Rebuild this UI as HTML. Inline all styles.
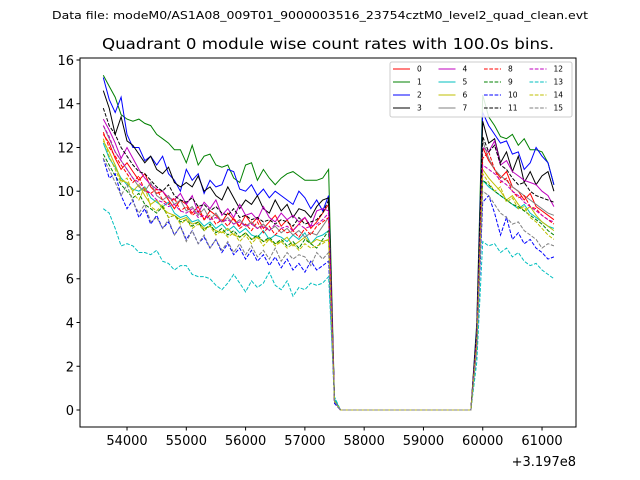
<!DOCTYPE html>
<html><head><meta charset="utf-8"><style>
body{margin:0;background:#fff;}
svg{display:block;font-family:"DejaVu Sans","Liberation Sans",sans-serif;}
</style></head><body>
<svg id="chart" width="640" height="480">
<rect x="0" y="0" width="640" height="480" fill="#fff"/>
<text x="320" y="19" font-size="10.5" text-anchor="middle" textLength="536" lengthAdjust="spacingAndGlyphs">Data file: modeM0/AS1A08_009T01_9000003516_23754cztM0_level2_quad_clean.evt</text>
<text x="328" y="49" font-size="15.5" text-anchor="middle" textLength="452" lengthAdjust="spacingAndGlyphs">Quadrant 0 module wise count rates with 100.0s bins.</text>
<g id="plot"></g>
<g id="axes"></g>
<g id="legend"></g>
<text x="576" y="466" font-size="13" text-anchor="end">+3.197e8</text>
</svg>
<script>
const startTime = 53600;
const binSize = 100;
const xTicks = [54000,55000,56000,57000,58000,59000,60000,61000];
const yTicks = [0,2,4,6,8,10,12,14,16];
const colors = ['#ff0000','#008000','#0000ff','#000000','#bf00bf','#00bfbf','#bfbf00','#808080'];
const dropValues = [0.4,0.5,0.4,0.4,0.4,0.5,0.4,0.4,0.4,0.4,0.3,0.4,0.4,0.6,0.4,0.4];
const gapValues = [0,0,0,0,0,0,0,0,0,0,0,0,0,0,0,0,0,0,0,0,0,0,0];
const riseValues = [3.4,4.0,3.8,3.6,3.4,3.0,3.2,3.4,3.2,3.0,2.8,3.6,3.2,2.2,3.0,2.8];
const seg1 = [
[12.6,12.2,11.5,11.0,11.3,10.9,10.5,10.8,10.2,9.9,10.0,9.6,9.2,9.6,9.4,9.0,9.3,8.7,9.1,8.9,8.6,9.0,8.7,8.4,8.9,8.5,8.8,8.3,8.6,8.9,8.4,8.7,8.2,8.5,8.8,8.3,8.6,9.0,9.4],
[15.3,14.8,14.3,13.5,13.3,13.2,13.3,13.1,13.0,12.6,12.4,12.2,11.9,11.9,11.3,12.1,11.2,11.6,11.7,11.2,11.1,11.2,10.6,10.4,11.2,11.3,10.5,11.0,10.6,10.3,10.6,10.8,10.9,10.7,10.5,10.5,10.5,10.6,11.0],
[15.2,14.2,13.6,14.3,12.6,12.0,12.0,11.4,11.6,11.2,11.6,10.8,10.5,10.0,11.0,10.5,10.8,9.9,10.5,10.2,10.3,11.0,10.9,10.1,10.0,10.3,9.8,10.1,9.7,10.0,9.8,9.6,9.4,10.0,9.7,9.2,9.6,9.1,9.8],
[14.6,13.8,12.6,13.4,12.3,12.1,11.7,11.3,11.6,11.0,10.8,11.1,10.4,10.2,10.4,10.2,10.7,10.0,10.2,9.8,9.6,10.2,9.7,9.2,9.6,9.4,9.8,9.2,9.0,9.6,9.1,9.4,8.8,9.2,9.1,8.8,9.3,9.6,9.7],
[13.3,12.8,12.2,11.5,12.0,11.5,11.0,10.6,10.3,10.1,10.0,9.7,9.6,9.9,9.4,9.8,9.0,9.5,9.2,9.6,8.9,9.2,8.8,9.4,8.9,9.0,8.7,9.3,8.8,8.6,9.0,8.7,8.9,8.6,8.8,8.4,9.1,9.2,9.1],
[12.2,11.5,11.1,10.6,10.3,10.1,10.0,10.2,9.7,9.5,9.3,9.5,9.0,8.8,8.9,8.6,8.7,8.4,8.6,8.3,8.5,8.2,8.4,8.1,8.3,8.0,7.9,8.2,7.8,8.0,7.9,7.7,8.0,7.8,8.1,7.6,7.9,8.0,8.2],
[12.3,11.8,11.2,10.5,10.4,10.0,10.3,9.8,9.4,9.6,9.2,9.0,8.9,8.7,8.8,8.5,8.6,8.3,8.4,8.2,8.1,8.3,8.0,7.9,8.1,7.8,7.9,7.7,7.8,7.6,7.7,7.9,7.5,7.7,7.9,7.6,7.8,7.7,7.8],
[13.0,12.4,11.8,11.4,11.0,10.6,10.2,10.0,10.4,9.8,9.6,9.8,9.4,9.6,9.1,9.3,8.9,9.2,8.7,9.0,8.6,8.8,8.5,8.7,8.4,8.6,8.3,8.5,8.2,8.4,8.1,8.3,8.0,8.2,7.9,8.1,8.0,8.4,8.8],
[12.7,12.0,11.6,11.2,10.8,10.4,10.7,10.0,9.9,10.1,9.6,9.4,9.7,9.1,9.3,8.9,9.1,8.7,8.9,8.5,8.7,8.4,8.8,8.3,8.5,8.2,8.6,8.1,8.4,8.0,8.3,8.1,8.2,7.9,8.3,8.0,8.4,8.6,8.8],
[11.7,11.2,10.7,10.3,10.0,9.7,9.9,9.4,9.2,9.0,9.3,8.8,8.9,8.6,8.7,8.4,8.6,8.2,8.5,8.1,8.3,8.0,8.2,7.9,8.1,7.8,8.0,7.7,7.9,7.6,7.8,7.5,7.7,7.4,7.8,7.6,7.4,7.8,8.2],
[11.5,10.6,10.8,9.8,9.2,9.6,8.8,9.2,8.5,8.9,8.3,8.6,8.0,8.4,7.8,8.2,7.6,7.9,7.4,7.8,7.2,7.6,7.1,7.4,6.9,7.3,6.8,7.1,6.6,7.0,6.5,6.9,6.4,6.7,6.3,6.8,6.4,6.6,6.8],
[13.8,13.0,12.6,12.0,11.6,11.2,10.9,10.8,10.5,10.2,10.0,10.3,9.8,9.6,9.5,9.7,9.3,9.4,9.1,9.3,9.0,8.9,9.2,8.8,8.9,8.7,8.8,8.6,8.7,8.5,8.7,8.6,8.4,8.8,8.5,8.6,8.7,9.0,9.6],
[13.0,12.5,11.8,11.4,11.0,10.6,10.4,10.1,9.9,9.6,9.5,9.3,9.4,9.1,9.0,9.2,8.8,8.9,8.7,8.8,8.6,8.7,8.5,8.6,8.4,8.5,8.3,8.4,8.2,8.5,8.3,8.4,8.2,8.5,8.3,8.4,8.5,8.7,9.0],
[9.2,9.0,8.3,7.5,7.6,7.5,7.2,7.2,7.1,7.3,6.8,6.7,6.4,6.6,6.6,6.2,6.1,6.1,6.0,5.7,5.5,5.8,6.2,5.8,5.4,5.9,5.6,5.8,6.3,5.7,5.5,5.9,5.2,5.6,5.5,5.8,5.7,5.8,6.1],
[12.4,11.6,11.0,10.4,10.6,9.9,9.6,10.2,9.3,9.1,9.4,8.8,8.9,8.5,8.7,8.3,8.5,8.2,8.4,8.0,8.2,7.9,8.1,7.7,8.0,7.6,7.9,7.5,7.8,7.5,7.7,7.4,7.6,7.3,7.6,7.4,7.5,7.6,7.8],
[11.5,11.0,10.4,9.8,10.3,9.5,9.0,9.4,8.6,8.8,8.3,8.7,8.0,8.4,7.7,8.2,7.6,8.0,7.4,7.8,7.3,7.7,7.2,7.6,7.1,7.5,7.0,7.3,6.9,7.4,6.8,7.2,6.9,7.1,7.0,6.6,7.2,6.9,7.2]
];
const seg2 = [
[12.0,11.4,11.0,10.6,10.9,10.2,10.0,9.6,9.9,9.3,9.1,8.9,8.7],
[14.4,13.4,13.0,12.5,12.4,12.6,12.1,12.4,11.9,11.9,11.8,11.3,10.3],
[13.6,13.0,12.6,12.2,12.3,11.7,11.8,11.0,11.3,12.0,11.6,11.3,10.3],
[13.2,12.2,12.4,11.3,11.8,10.9,11.6,10.4,10.9,10.3,10.7,10.9,10.0],
[12.0,11.8,12.3,11.2,11.4,10.9,10.7,10.5,10.4,10.3,10.0,9.8,9.3],
[10.5,10.2,10.0,9.8,9.6,9.4,9.2,9.4,9.0,8.8,8.6,8.4,8.3],
[11.0,10.6,10.3,10.0,9.6,9.8,9.4,9.1,9.3,8.9,8.6,8.4,8.2],
[12.3,11.5,11.0,10.7,10.5,10.2,10.0,9.8,9.6,9.4,9.2,9.0,8.9],
[11.5,11.8,11.0,10.4,10.6,10.0,9.7,9.8,9.3,9.2,8.9,8.7,8.5],
[10.5,10.3,10.0,9.8,9.6,9.4,9.3,9.1,8.9,8.7,8.5,8.2,8.0],
[9.5,9.8,9.0,8.0,8.8,7.8,8.1,7.6,7.8,7.4,7.2,6.9,7.0],
[12.5,11.8,12.1,11.2,11.0,10.6,10.3,10.4,10.0,9.8,9.7,9.6,9.5],
[11.2,11.0,10.8,10.5,10.3,10.0,9.8,9.5,9.3,9.1,8.9,8.7,8.6],
[7.7,7.5,7.6,7.2,7.4,7.0,7.2,6.8,6.6,6.7,6.4,6.2,6.0],
[10.8,10.4,10.0,10.2,9.5,9.7,9.2,9.3,8.8,8.6,8.3,8.0,7.8],
[10.0,9.8,9.4,9.0,8.8,8.5,8.6,8.2,8.0,7.8,7.4,7.6,7.5]
];
const NS = 'http://www.w3.org/2000/svg';
const X0 = 80, X1 = 576, Y0 = 58, Y1 = 427;
const xMin = 53207, xMax = 61573, yMin = -0.777, yMax = 16.091;
function xs(v){return X0 + (v - xMin) / (xMax - xMin) * (X1 - X0);}
function ys(v){return Y1 - (v - yMin) / (yMax - yMin) * (Y1 - Y0);}
function mk(tag, attrs, parent){const e=document.createElementNS(NS,tag);for(const k in attrs)e.setAttribute(k,attrs[k]);parent.appendChild(e);return e;}
const plot = document.getElementById('plot');
const axes = document.getElementById('axes');
const legend = document.getElementById('legend');
for (let s = 0; s < 16; s++) {
  const vals = seg1[s].concat([dropValues[s]], gapValues, [riseValues[s]], seg2[s]);
  const pts = vals.map((v,i)=>xs(startTime + i*binSize).toFixed(1)+','+ys(v).toFixed(1)).join(' ');
  const pl = mk('polyline',{points:pts,fill:'none',stroke:colors[s%8],'stroke-width':1,'stroke-dasharray':s>=8?'3.7,1.6':'none'},plot);
  
  
}
const frame = mk('rect',{x:X0,y:Y0,width:X1-X0,height:Y1-Y0,fill:'none',stroke:'#000','stroke-width':1},axes);


xTicks.forEach(t=>{
  const x = xs(t);
  mk('line',{x1:x,x2:x,y1:Y1,y2:Y1+3.5,stroke:'#000'},axes);
  const tx = mk('text',{x:x,y:Y1+18,'font-size':13,'text-anchor':'middle'},axes);
  tx.textContent = t;
  
  
});
yTicks.forEach(t=>{
  const y = ys(t);
  mk('line',{x1:X0-3.5,x2:X0,y1:y,y2:y,stroke:'#000'},axes);
  const tx = mk('text',{x:X0-6,y:y+5,'font-size':13,'text-anchor':'end'},axes);
  tx.textContent = t;
  
  
});
const lbox = mk('rect',{x:390,y:62,width:182,height:55,rx:2,fill:'#fff','fill-opacity':0.85,stroke:'#ccc','stroke-width':1},legend);


for (let s = 0; s < 16; s++) {
  const col = Math.floor(s/4), row = s%4;
  const lx = 393 + col*45.5, ly = 69 + row*13;
  const g = mk('g',{},legend);
  
  
  mk('line',{x1:lx,x2:lx+17,y1:ly,y2:ly,stroke:colors[s%8],'stroke-width':1,'stroke-dasharray':s>=8?'3.7,1.6':'none'},g);
  const t = mk('text',{x:lx+24,y:ly+2.5,'font-size':7.5},g);
  t.textContent = s;
}
</script>
</body></html>
